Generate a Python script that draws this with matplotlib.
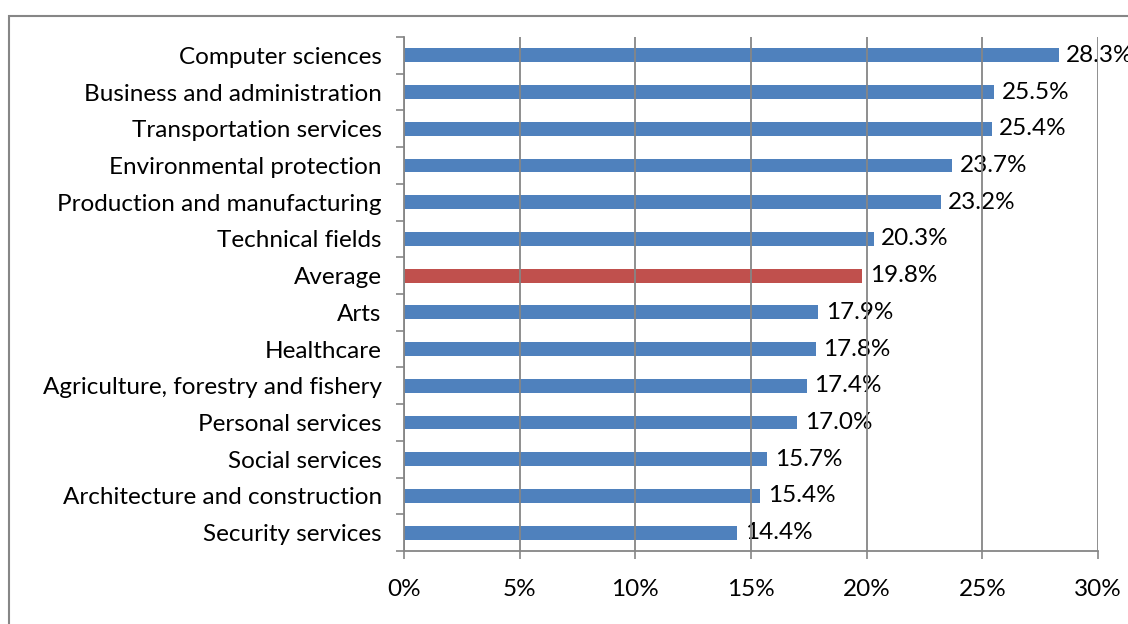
import matplotlib
matplotlib.use("Agg")
import matplotlib.pyplot as plt
from matplotlib.patches import Rectangle
import numpy as np

categories = [
    "Computer sciences",
    "Business and administration",
    "Transportation services",
    "Environmental protection",
    "Production and manufacturing",
    "Technical fields",
    "Average",
    "Arts",
    "Healthcare",
    "Agriculture, forestry and fishery",
    "Personal services",
    "Social services",
    "Architecture and construction",
    "Security services",
]
values = [28.3, 25.5, 25.4, 23.7, 23.2, 20.3, 19.8, 17.9, 17.8, 17.4, 17.0, 15.7, 15.4, 14.4]
xticks = [0, 5, 10, 15, 20, 25, 30]
xticklabels = ["0%", "5%", "10%", "15%", "20%", "25%", "30%"]

BLUE = "#4F81BD"
RED = "#C0504D"
GRID = "#868686"
FS = 17.5

plt.rcParams['font.family'] = ['Lato', 'DejaVu Sans']

W, H = 1128, 624
fig = plt.figure(figsize=(W / 100, H / 100), dpi=100)
fig.patches.append(Rectangle((9 / W, -0.1), 1.2, 1 - 16 / H + 0.1, transform=fig.transFigure,
                             fill=False, edgecolor=GRID, linewidth=1.5))

ax = fig.add_axes([404 / W, 1 - 551 / H, (1098 - 404) / W, (551 - 37) / H])
n = len(categories)
ypos = np.arange(n)
colors = [RED if c == "Average" else BLUE for c in categories]
ax.barh(ypos, values, height=0.38, color=colors, zorder=2)
ax.set_ylim(n - 0.5, -0.5)
ax.set_xlim(0, 30)

for y, v in zip(ypos, values):
    ax.annotate(f"{v:.1f}%", (v, y), xytext=(5.5, 0), textcoords="offset points",
                va="center", ha="left", fontsize=FS, color="black", zorder=1)

ax.set_xticks(xticks)
ax.set_xticklabels(xticklabels, fontsize=FS)
ax.set_yticks(ypos)
ax.set_yticklabels(categories, fontsize=FS)
ax.set_yticks(np.arange(n + 1) - 0.5, minor=True)
ax.tick_params(axis="y", which="major", length=0, pad=16)
ax.tick_params(axis="y", which="minor", length=6, color=GRID, width=1.2)
ax.tick_params(axis="x", which="major", length=6, color=GRID, width=1.2, pad=14)

ax.grid(axis="x", color=GRID, linewidth=1.3, zorder=3)
ax.set_axisbelow(False)
ax.spines["top"].set_visible(False)
ax.spines["right"].set_visible(False)
ax.spines["left"].set_color(GRID)
ax.spines["bottom"].set_color(GRID)
ax.spines["left"].set_linewidth(1.3)
ax.spines["bottom"].set_linewidth(1.3)

fig.savefig("out.png", dpi=100)
